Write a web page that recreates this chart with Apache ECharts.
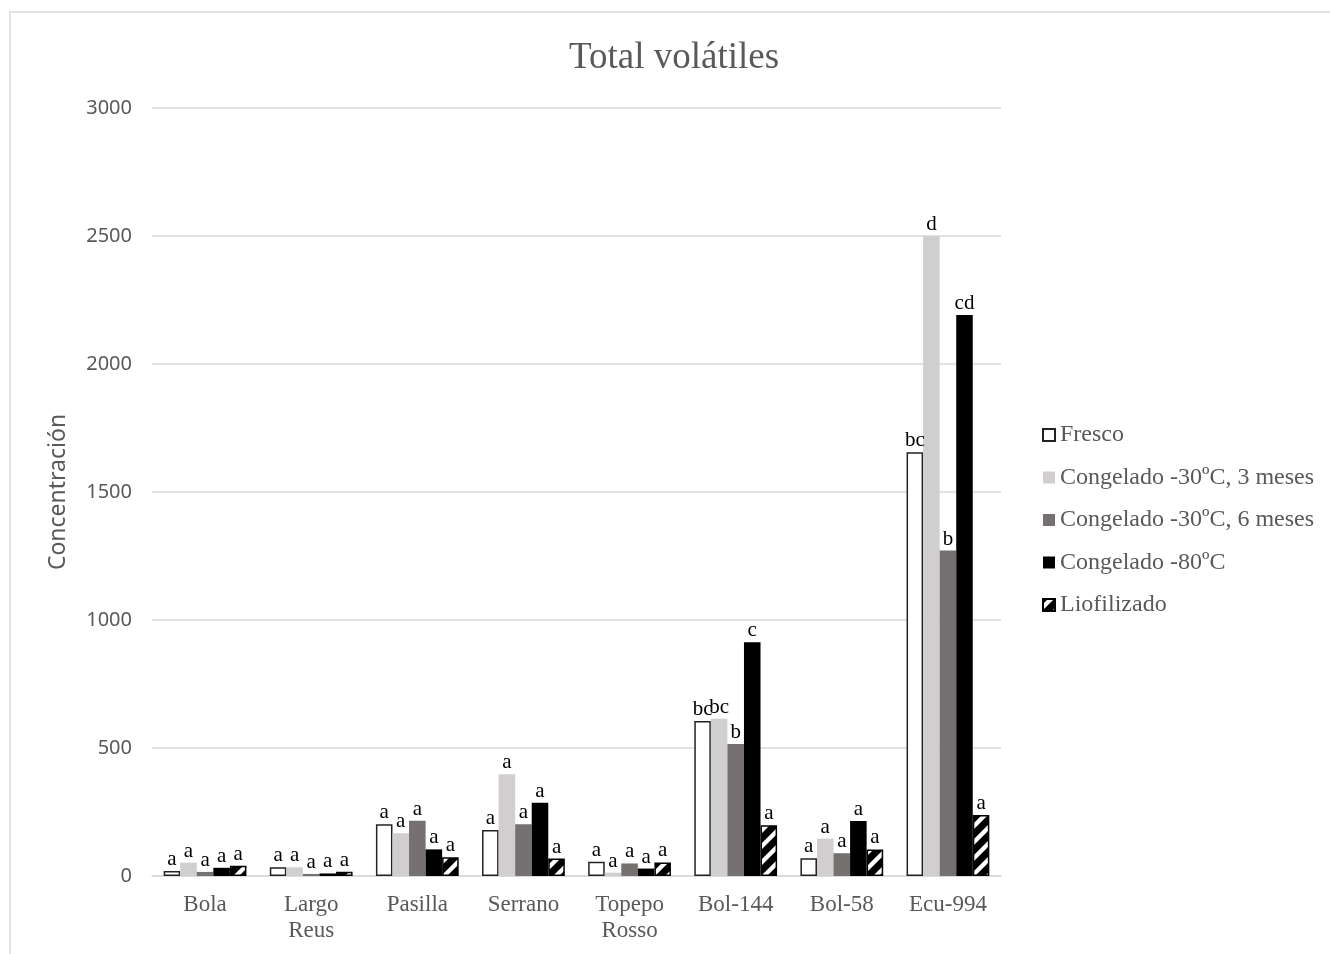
<!DOCTYPE html>
<html>
<head>
<meta charset="utf-8">
<script src="https://cdn.jsdelivr.net/npm/echarts@6/dist/echarts.min.js"></script>
<style>html,body{margin:0;padding:0;background:#fff}#c{width:1330px;height:954px}</style>
</head>
<body>
<div id="c"></div>
<script>
const categories = ['Bola', 'Largo\nReus', 'Pasilla', 'Serrano', 'Topepo\nRosso', 'Bol-144', 'Bol-58', 'Ecu-994'];
const seriesNames = ['Fresco', 'Congelado -30ºC, 3 meses', 'Congelado -30ºC, 6 meses', 'Congelado -80ºC', 'Liofilizado'];
const fresco    = [20, 34, 202, 180, 56, 605, 69, 1655];
const cong3     = [52, 34, 167, 397, 13, 614, 146, 2500];
const cong6     = [16, 8, 216, 202, 49, 516, 89, 1271];
const cong80    = [32, 10, 104, 286, 29, 913, 215, 2191];
const liof      = [40, 17, 73, 68, 53, 198, 104, 238];
const lettersFresco = ['a', 'a', 'a', 'a', 'a', 'bc', 'a', 'bc'];
const lettersCong3  = ['a', 'a', 'a', 'a', 'a', 'bc', 'a', 'd'];
const lettersCong6  = ['a', 'a', 'a', 'a', 'a', 'b', 'a', 'b'];
const lettersCong80 = ['a', 'a', 'a', 'a', 'a', 'c', 'a', 'cd'];
const lettersLiof   = ['a', 'a', 'a', 'a', 'a', 'a', 'a', 'a'];
const yTicks = [0, 500, 1000, 1500, 2000, 2500, 3000];

// stripe pattern
const pc = document.createElement('canvas');
pc.width = 16; pc.height = 16;
const g = pc.getContext('2d');
g.fillStyle = '#fff'; g.fillRect(0, 0, 16, 16);
g.strokeStyle = '#000'; g.lineWidth = 7;
g.beginPath();
g.moveTo(-2, 18); g.lineTo(18, -2);
g.moveTo(-10, 10); g.lineTo(10, -10);
g.moveTo(6, 26); g.lineTo(26, 6);
g.stroke();

const serif = '"Liberation Serif", "Times New Roman", serif';
const sans = '"Noto Sans", "Open Sans", sans-serif';

function mk(name, data, letters, itemStyle) {
  return {
    name: name,
    type: 'bar',
    data: data,
    barGap: '0%',
    barCategoryGap: '22%',
    itemStyle: itemStyle,
    label: {
      show: true,
      position: 'top',
      distance: 1,
      color: '#000',
      fontFamily: serif,
      fontSize: 21,
      formatter: p => letters[p.dataIndex]
    }
  };
}

const chart = echarts.init(document.getElementById('c'));
chart.setOption({
  animation: false,
  backgroundColor: '#fff',
  title: {
    text: 'Total volátiles',
    left: 569,
    top: 40,
    padding: 0,
    textStyle: { fontFamily: serif, fontSize: 37, fontWeight: 'normal', color: '#595959' }
  },
  graphic: [{
    type: 'rect',
    shape: { x: 10, y: 12, width: 1400, height: 1000 },
    style: { fill: 'none', stroke: '#d9d9d9', lineWidth: 1.5 },
    silent: true
  }],
  legend: {
    orient: 'vertical',
    left: 1037,
    top: 418,
    itemWidth: 12,
    itemHeight: 12,
    itemGap: 18.5,
    icon: 'rect',
    data: seriesNames,
    textStyle: { fontFamily: serif, fontSize: 24, color: '#595959', lineHeight: 24 }
  },
  grid: { left: 152, right: 329, top: 108, bottom: 78 },
  xAxis: {
    type: 'category',
    data: categories,
    axisLine: { lineStyle: { color: '#d9d9d9', width: 1.5 } },
    axisTick: { show: false },
    axisLabel: { fontFamily: serif, fontSize: 23, color: '#595959', lineHeight: 26, margin: 16 }
  },
  yAxis: {
    type: 'value',
    min: yTicks[0],
    max: yTicks[yTicks.length - 1],
    interval: yTicks[1] - yTicks[0],
    name: 'Concentración',
    nameLocation: 'middle',
    nameGap: 82,
    nameTextStyle: { fontFamily: sans, fontSize: 23, color: '#595959' },
    axisLine: { show: false },
    axisTick: { show: false },
    splitLine: { lineStyle: { color: '#d9d9d9', width: 1.5 } },
    axisLabel: { fontFamily: sans, fontSize: 20, color: '#595959', margin: 20, formatter: v => String(v) }
  },
  series: [
    mk(seriesNames[0], fresco, lettersFresco, { color: '#ffffff', borderColor: '#222', borderWidth: 1.5 }),
    mk(seriesNames[1], cong3, lettersCong3, { color: '#d0cece' }),
    mk(seriesNames[2], cong6, lettersCong6, { color: '#767171' }),
    mk(seriesNames[3], cong80, lettersCong80, { color: '#000000' }),
    mk(seriesNames[4], liof, lettersLiof, { color: { image: pc, repeat: 'repeat' }, borderColor: '#000', borderWidth: 1.5 })
  ]
});
</script>
</body>
</html>
